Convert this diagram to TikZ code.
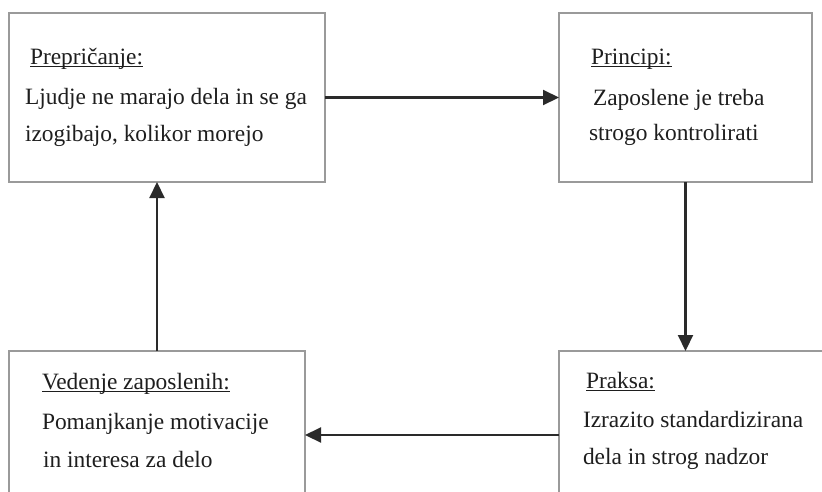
\documentclass[tikz,border=0pt]{standalone}
\usepackage{fontspec}
\setmainfont{Liberation Serif}
\usetikzlibrary{arrows.meta}
\definecolor{boxgray}{HTML}{9A9A9A}
\definecolor{linegray}{HTML}{2A2A2A}
\definecolor{txt}{HTML}{1E1E1E}
\newcommand\ulin[1]{\setbox0=\hbox{#1}\rlap{\rule[-3.2pt]{\wd0}{1.1pt}}\box0}
\begin{document}
\begin{tikzpicture}[x=1pt,y=-1pt,
  box/.style={draw=boxgray,line width=1.8pt,inner sep=0pt,outer sep=0pt,rectangle},
  lbl/.style={anchor=base west,inner sep=0pt,outer sep=0pt,text=txt,font=\fontsize{23.4pt}{28pt}\selectfont},
  arr/.style={draw=linegray,line width=2.1pt,-{Triangle[length=16pt,width=15pt]}}]
\useasboundingbox (0,0) rectangle (822,491);
\clip (0,0) rectangle (822,491);
\fill[white] (0,0) rectangle (822,491);
\node[box,minimum width=316pt,minimum height=169pt] (b1) at (167,97.5) {};
\node[box,minimum width=253pt,minimum height=169pt] (b2) at (685.5,97.5) {};
\node[box,minimum width=296pt,minimum height=168pt] (b3) at (157,435) {};
\node[box,minimum width=302pt,minimum height=168pt] (b4) at (710,435) {};
\node[lbl] (t1a) at (30,64) {\ulin{Prepričanje:}};
\node[lbl] (t1b) at (25,104) {Ljudje ne marajo dela in se ga};
\node[lbl] (t1c) at (25,141) {izogibajo, kolikor morejo};
\node[lbl] (t2a) at (591,64) {\ulin{Principi:}};
\node[lbl] (t2b) at (593,105) {Zaposlene je treba};
\node[lbl] (t2c) at (589,140) {strogo kontrolirati};
\node[lbl] (t3a) at (42,389) {\ulin{Vedenje zaposlenih:}};
\node[lbl] (t3b) at (42,429) {Pomanjkanje motivacije};
\node[lbl] (t3c) at (43,467) {in interesa za delo};
\node[lbl] (t4a) at (586,388) {\ulin{Praksa:}};
\node[lbl] (t4b) at (583,427) {Izrazito standardizirana};
\node[lbl] (t4c) at (583,464) {dela in strog nadzor};
\draw[arr] (b1.east) -- (b2.west);
\draw[arr] (b2.south) -- (b2.south |- b4.north);
\draw[arr] (b4.west) -- (b3.east);
\draw[arr] (b3.north) -- (b3.north |- b1.south);
\end{tikzpicture}
\end{document}
